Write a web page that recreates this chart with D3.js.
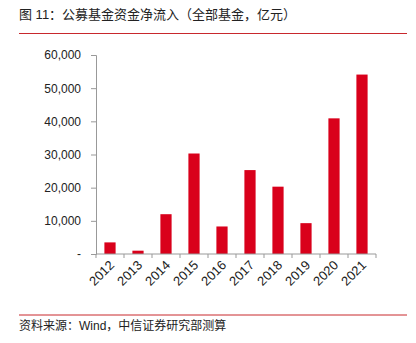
<!DOCTYPE html>
<html>
<head>
<meta charset="utf-8">
<script src="https://cdn.jsdelivr.net/npm/d3@7"></script>
<style>
  html, body { margin: 0; padding: 0; background: #fff; }
  svg { display: block; }
</style>
</head>
<body>
<script>
// Annual net inflow into public mutual funds (all funds, 100 million CNY)
const years = ["2012", "2013", "2014", "2015", "2016", "2017", "2018", "2019", "2020", "2021"];
const inflows = [3500, 1000, 12000, 30300, 8300, 25300, 20300, 9300, 40900, 54100];
const yTicks = [0, 10000, 20000, 30000, 40000, 50000, 60000];

const titleText = "图 11：公募基金资金净流入（全部基金，亿元）";
const sourceText = "资料来源：Wind，中信证券研究部测算";

const W = 416, H = 343;
const font = "'Liberation Sans', Arial, 'Noto Sans CJK SC', sans-serif";
const red = "#d9001b";
const axisColor = "#999";

const svg = d3.select("body").append("svg")
  .attr("width", W).attr("height", H)
  .style("font-family", font);

// Title and its rule
svg.append("text").attr("x", 19).attr("y", 19)
  .attr("font-size", 13).attr("fill", "#222").text(titleText);
svg.append("line").attr("x1", 19).attr("x2", 407).attr("y1", 33.5).attr("y2", 33.5)
  .attr("stroke", "#c8282d").attr("stroke-width", 1);

// Plot area
const x = d3.scaleBand().domain(years).range([96, 376]).paddingInner(0.6).paddingOuter(0.3);
const y = d3.scaleLinear().domain([0, 60000]).range([254, 55]);

// Y axis
const yAxis = d3.axisLeft(y).tickValues(yTicks).tickSize(5).tickPadding(10)
  .tickFormat(d => d === 0 ? "-" : d3.format(",")(d));
const gy = svg.append("g").attr("transform", "translate(96,0)").call(yAxis);
gy.select(".domain").attr("stroke", axisColor);
gy.selectAll(".tick line").attr("stroke", axisColor);
gy.selectAll(".tick text").attr("font-size", 12).attr("fill", "#222").attr("font-family", font);

// Bars
svg.append("g").selectAll("rect").data(years).join("rect")
  .attr("x", d => x(d))
  .attr("width", x.bandwidth())
  .attr("y", (d, i) => y(inflows[i]))
  .attr("height", (d, i) => y(0) - y(inflows[i]))
  .attr("fill", red);

// X axis with ticks at category boundaries
const [x0, x1] = x.range();
const edges = d3.range(years.length + 1).map(i => x0 + i * (x1 - x0) / years.length);
const gx = svg.append("g").attr("transform", `translate(0,${y(0)})`);
gx.append("line").attr("x1", x0).attr("x2", x1).attr("y1", 0).attr("y2", 0)
  .attr("stroke", axisColor);
gx.selectAll("line.tk").data(edges).join("line").attr("class", "tk")
  .attr("x1", d => d).attr("x2", d => d).attr("y1", 0).attr("y2", 4)
  .attr("stroke", axisColor);
gx.selectAll("text").data(years).join("text")
  .attr("transform", d => `translate(${x(d) + x.bandwidth() / 2 + 5},${12}) rotate(-45)`)
  .attr("text-anchor", "end")
  .attr("font-size", 13).attr("fill", "#222")
  .text(d => d);

// Source rule and text
svg.append("line").attr("x1", 19).attr("x2", 407).attr("y1", 315).attr("y2", 315)
  .attr("stroke", "#c8282d").attr("stroke-width", 1);
svg.append("text").attr("x", 19).attr("y", 330)
  .attr("font-size", 12).attr("fill", "#222").text(sourceText);
</script>
</body>
</html>
